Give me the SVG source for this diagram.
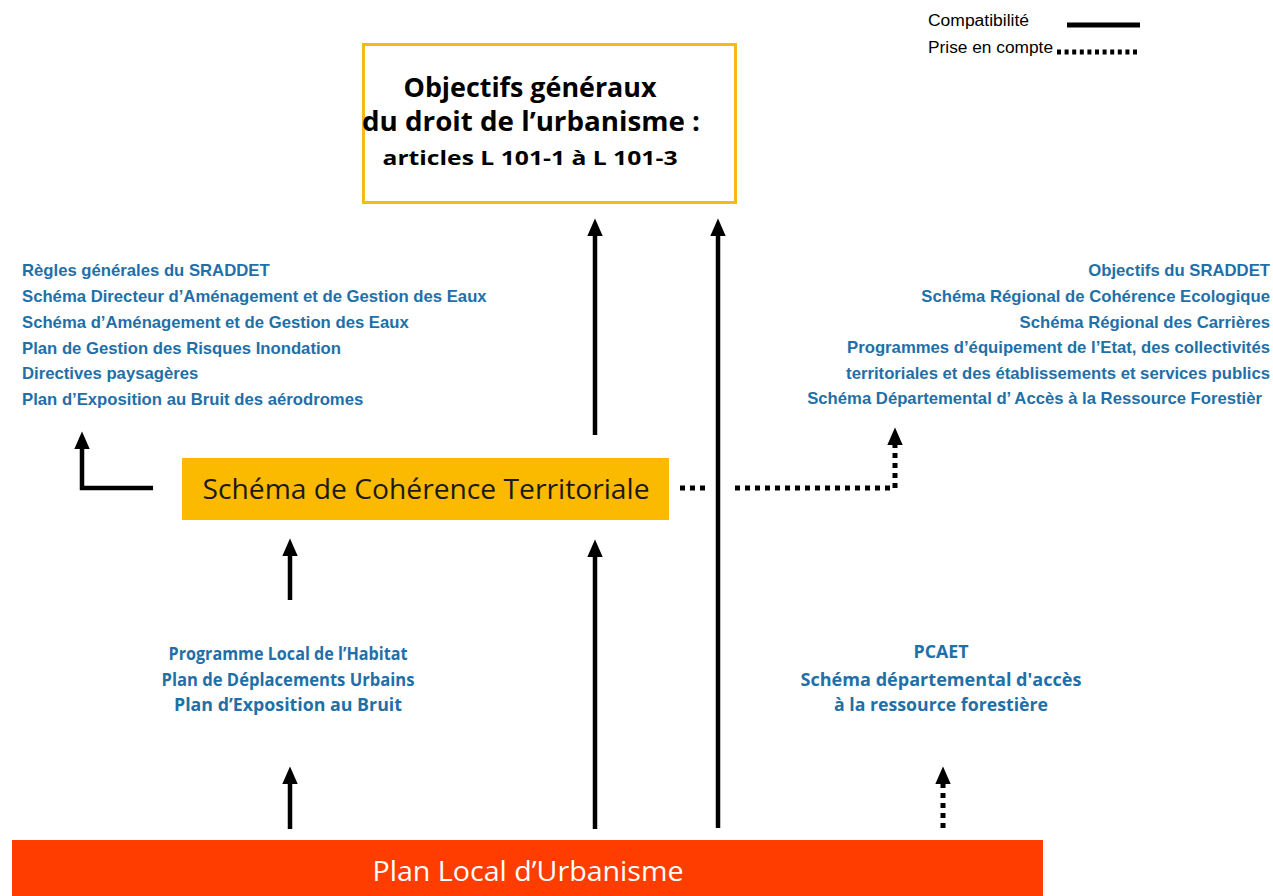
<svg xmlns="http://www.w3.org/2000/svg" width="1273" height="896" viewBox="0 0 1273 896">
<defs>
<style>
.blue{font-family:"Liberation Sans",Arial,sans-serif;font-weight:bold;font-size:16.7px;fill:#1f6fa8}
.cal{font-family:"Open Sans","Liberation Sans",sans-serif}
.calblue{font-family:"Open Sans","Liberation Sans",sans-serif;font-weight:bold;font-size:17px;fill:#1f6fa8}
.leg{font-family:"Liberation Sans",Arial,sans-serif;font-size:16px;fill:#000}
.solid{stroke:#000;stroke-width:4.5;fill:none}
.dot{stroke:#000;stroke-width:5;fill:none;stroke-dasharray:5 5}
</style>
<marker id="ah" markerUnits="userSpaceOnUse" markerWidth="20" markerHeight="20" viewBox="0 -8 18 16" refX="2" refY="0" orient="auto">
<path d="M0,-7 L16,0 L0,7 Z" fill="#000"/>
</marker>
</defs>
<rect width="1273" height="896" fill="#fff"/>

<g id="legend">
<text class="leg" x="928" y="26" textLength="101" lengthAdjust="spacingAndGlyphs">Compatibilité</text>
<text class="leg" x="928" y="53" textLength="125" lengthAdjust="spacingAndGlyphs">Prise en compte</text>
<line x1="1067" y1="25" x2="1140" y2="25" stroke="#000" stroke-width="5"/>
<line x1="1057" y1="52" x2="1140" y2="52" stroke="#000" stroke-width="5" stroke-dasharray="4 3.6"/>
</g>

<g id="objectifs">
<rect x="363.5" y="44.5" width="372" height="158" fill="#fff" stroke="#f5b919" stroke-width="3"/>
<text class="cal" x="530" y="97" text-anchor="middle" font-size="26" font-weight="bold" fill="#000" textLength="253" lengthAdjust="spacingAndGlyphs">Objectifs généraux</text>
<text class="cal" x="531" y="131" text-anchor="middle" font-size="26" font-weight="bold" fill="#000" textLength="338" lengthAdjust="spacingAndGlyphs">du droit de l’urbanisme :</text>
<text class="cal" x="530" y="165" text-anchor="middle" font-size="20" font-weight="bold" fill="#000" textLength="295" lengthAdjust="spacingAndGlyphs">articles L 101-1 à L 101-3</text>
</g>

<g id="scot">
<rect x="182" y="458" width="487" height="62" fill="#fbb900"/>
<text class="cal" x="426" y="499" text-anchor="middle" font-size="28" fill="#1a1a1a" textLength="447" lengthAdjust="spacingAndGlyphs">Schéma de Cohérence Territoriale</text>
</g>

<g id="plu">
<rect x="12" y="840" width="1031" height="56" fill="#ff3d00"/>
<text class="cal" x="528" y="881" text-anchor="middle" font-size="27" fill="#fff" textLength="311" lengthAdjust="spacingAndGlyphs">Plan Local d’Urbanisme</text>
</g>

<g id="compat-left">
<text class="blue" x="22" y="276">Règles générales du SRADDET</text>
<text class="blue" x="22" y="302">Schéma Directeur d’Aménagement et de Gestion des Eaux</text>
<text class="blue" x="22" y="328">Schéma d’Aménagement et de Gestion des Eaux</text>
<text class="blue" x="22" y="354">Plan de Gestion des Risques Inondation</text>
<text class="blue" x="22" y="379">Directives paysagères</text>
<text class="blue" x="22" y="405">Plan d’Exposition au Bruit des aérodromes</text>
</g>

<g id="prise-right">
<text class="blue" x="1270" y="276" text-anchor="end">Objectifs du SRADDET</text>
<text class="blue" x="1270" y="302" text-anchor="end">Schéma Régional de Cohérence Ecologique</text>
<text class="blue" x="1270" y="328" text-anchor="end">Schéma Régional des Carrières</text>
<text class="blue" x="1270" y="353" text-anchor="end">Programmes d’équipement de l’Etat, des collectivités</text>
<text class="blue" x="1270" y="379" text-anchor="end">territoriales et des établissements et services publics</text>
<text class="blue" x="1262" y="404" text-anchor="end">Schéma Départemental d’ Accès à la Ressource Forestièr</text>
</g>

<g id="plh">
<text class="calblue" x="288" y="660" text-anchor="middle" textLength="239" lengthAdjust="spacingAndGlyphs">Programme Local de l’Habitat</text>
<text class="calblue" x="288" y="686" text-anchor="middle" textLength="253" lengthAdjust="spacingAndGlyphs">Plan de Déplacements Urbains</text>
<text class="calblue" x="288" y="711" text-anchor="middle" textLength="228" lengthAdjust="spacingAndGlyphs">Plan d’Exposition au Bruit</text>
</g>

<g id="pcaet">
<text class="calblue" x="941" y="658" text-anchor="middle" textLength="55" lengthAdjust="spacingAndGlyphs">PCAET</text>
<text class="calblue" x="941" y="686" text-anchor="middle" textLength="281" lengthAdjust="spacingAndGlyphs">Schéma départemental d'accès</text>
<text class="calblue" x="941" y="711" text-anchor="middle" textLength="214" lengthAdjust="spacingAndGlyphs">à la ressource forestière</text>
</g>

<g id="connectors">
<line class="solid" x1="595" y1="435" x2="595" y2="234" marker-end="url(#ah)"/>
<line class="solid" x1="718" y1="828" x2="718" y2="234" marker-end="url(#ah)"/>
<line class="solid" x1="595" y1="829" x2="595" y2="555" marker-end="url(#ah)"/>
<line class="solid" x1="290" y1="600" x2="290" y2="554" marker-end="url(#ah)"/>
<line class="solid" x1="290" y1="829" x2="290" y2="782" marker-end="url(#ah)"/>
<line class="dot" x1="943" y1="828" x2="943" y2="782" marker-end="url(#ah)"/>
<polyline class="solid" points="153,488 82,488 82,447" marker-end="url(#ah)"/>
<line class="dot" x1="680" y1="488" x2="708" y2="488"/>
<polyline class="dot" points="735,488 895,488 895,443" marker-end="url(#ah)"/>
</g>
</svg>
